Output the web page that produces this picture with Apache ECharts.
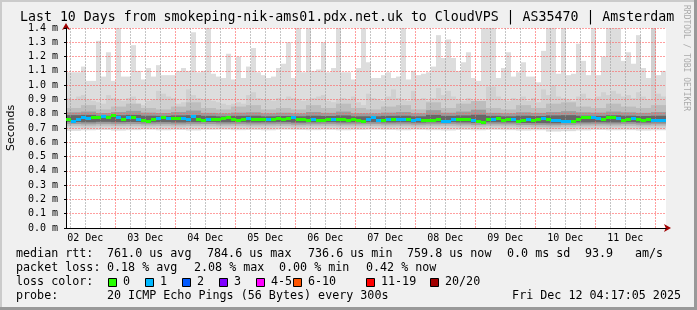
<!DOCTYPE html>
<html><head><meta charset="utf-8">
<script src="https://cdn.jsdelivr.net/npm/echarts@6/dist/echarts.min.js"></script>
<style>html,body{margin:0;padding:0;background:#f0f0f0}#c{width:697px;height:310px}</style>
</head><body><div id="c"></div>
<script>
// ---------- data ----------
const titleText = 'Last 10 Days from smokeping-nik-ams01.pdx.net.uk to CloudVPS | AS35470 | Amsterdam';
const dayLabels = ['02 Dec','03 Dec','04 Dec','05 Dec','06 Dec','07 Dec','08 Dec','09 Dec','10 Dec','11 Dec'];
const startHour = 4 + 17/60 + 5/3600;   // Dec 2 04:17:05 (hours since Dec 2 00:00)
const endHour = startHour + 240;        // Dec 12 04:17:05
// 2-hour columns (120)
const smokeMax = [
 1.09,1.09,1.09,1.13,1.03,1.03,1.31,1.06,1.23,1.03,1.45,1.06,1.06,1.28,1.10,1.04,1.12,1.06,1.14,1.07,1.07,1.07,1.10,1.12,
 1.10,1.37,1.09,1.10,1.42,1.08,1.06,1.05,1.22,1.04,1.20,1.05,1.13,1.26,1.09,1.07,1.05,1.06,1.12,1.15,1.30,1.05,1.45,1.09,
 1.42,1.10,1.11,1.30,1.09,1.12,1.42,1.09,1.09,1.04,1.12,1.42,1.16,1.05,1.05,1.07,1.09,1.05,1.06,1.43,1.04,1.10,1.07,1.08,
 1.09,1.13,1.35,1.19,1.32,1.19,1.10,1.16,1.23,1.05,1.03,1.43,1.42,1.42,1.05,1.12,1.23,1.06,1.09,1.16,1.06,1.06,1.02,1.24,
 1.42,1.42,1.08,1.42,1.07,1.08,1.29,1.17,1.07,1.42,1.07,1.20,1.42,1.42,1.42,1.17,1.23,1.15,1.35,1.12,1.05,1.42,1.07,1.10];
const smokeHi2 = [
 0.91,0.90,0.92,0.93,0.90,0.89,0.88,0.87,0.93,0.91,0.90,0.89,0.91,0.92,0.87,0.86,0.89,0.90,0.96,0.94,0.92,0.91,0.87,0.88,
 0.97,0.93,0.91,0.90,0.90,0.89,0.88,0.87,0.86,0.87,0.88,0.87,0.93,0.95,0.91,0.90,0.90,0.89,0.91,0.90,0.92,0.91,0.90,0.89,
 0.90,0.91,0.92,0.93,0.89,0.88,0.90,0.91,0.90,0.92,0.88,0.86,0.94,0.91,0.90,0.89,0.92,0.97,0.91,0.90,0.89,0.96,0.90,0.91,
 0.89,0.91,0.98,0.93,0.96,0.92,0.90,0.89,0.91,0.88,0.87,0.89,0.99,0.99,0.92,0.90,0.89,0.91,0.90,0.92,0.89,0.91,0.88,0.97,
 0.93,1.00,0.92,0.91,0.90,0.89,0.92,0.94,0.91,0.90,0.92,0.95,0.93,0.96,0.94,0.92,0.93,0.91,0.95,0.92,0.90,1.42,0.94,0.92];
const medianRtt = [
 0.758,0.749,0.758,0.772,0.766,0.774,0.774,0.779,0.774,0.786,0.772,0.761,0.772,0.777,0.763,0.751,0.744,0.758,0.770,0.774,0.766,0.770,0.766,0.768,
 0.763,0.779,0.761,0.751,0.761,0.758,0.763,0.768,0.772,0.761,0.756,0.761,0.766,0.761,0.761,0.758,0.763,0.763,0.766,0.763,0.770,0.772,0.758,0.758,
 0.756,0.758,0.751,0.751,0.758,0.761,0.761,0.761,0.756,0.761,0.753,0.744,0.763,0.777,0.753,0.751,0.758,0.758,0.761,0.758,0.761,0.756,0.763,0.756,
 0.756,0.756,0.758,0.747,0.747,0.758,0.761,0.761,0.761,0.751,0.749,0.737,0.761,0.763,0.770,0.753,0.758,0.758,0.746,0.751,0.758,0.751,0.758,0.766,
 0.761,0.756,0.751,0.744,0.744,0.746,0.758,0.772,0.777,0.772,0.768,0.761,0.772,0.772,0.768,0.756,0.761,0.770,0.758,0.756,0.758,0.756,0.751,0.756];
const lossCount = [
 0,1,1,1,1,0,0,1,0,0,1,0,1,0,1,0,0,0,1,0,1,0,0,1,
 1,1,0,0,1,0,0,0,0,0,0,0,1,0,0,0,1,0,0,0,0,1,0,0,
 0,1,0,0,0,1,0,0,0,0,0,0,1,1,1,0,1,0,1,1,0,1,1,0,
 0,0,0,1,1,1,0,0,0,1,0,0,0,1,0,0,0,1,0,0,1,0,0,1,
 0,1,1,1,1,0,0,0,0,1,1,0,0,0,1,0,0,1,0,0,0,1,1,1];
// 6-hour columns (40)
const smokeHi3 = [0.84,0.86,0.83,0.85,0.87,0.84,0.83,0.85,0.88,0.84,0.83,0.85,0.86,0.83,0.84,0.83,0.86,0.84,0.87,0.84,
                  0.83,0.85,0.86,0.83,0.88,0.84,0.87,0.89,0.84,0.83,0.86,0.84,0.87,0.88,0.85,0.84,0.87,0.85,0.84,0.86];
const smokeHi4 = [0.810,0.815,0.805,0.812,0.820,0.808,0.805,0.812,0.822,0.806,0.802,0.808,0.810,0.803,0.807,0.802,0.812,0.806,0.815,0.803,
                  0.802,0.808,0.812,0.803,0.825,0.807,0.815,0.828,0.806,0.803,0.810,0.806,0.812,0.818,0.810,0.808,0.815,0.810,0.806,0.812];
const smokeHi5 = [0.790,0.792,0.786,0.789,0.792,0.786,0.785,0.788,0.790,0.785,0.782,0.785,0.786,0.782,0.784,0.782,0.786,0.784,0.788,0.782,
                  0.782,0.785,0.786,0.782,0.792,0.785,0.788,0.793,0.785,0.782,0.786,0.784,0.788,0.790,0.786,0.785,0.789,0.786,0.784,0.786];
const smokeLo5 = [0.742,0.740,0.743,0.741,0.742,0.740,0.741,0.739,0.741,0.742,0.740,0.741,0.739,0.740,0.741,0.738,0.740,0.741,0.739,0.740,
                  0.741,0.739,0.740,0.738,0.740,0.741,0.739,0.736,0.740,0.739,0.735,0.734,0.733,0.736,0.739,0.740,0.739,0.741,0.738,0.740];
const smokeLo4 = [0.728,0.726,0.729,0.727,0.728,0.726,0.727,0.725,0.727,0.728,0.726,0.727,0.725,0.726,0.727,0.724,0.726,0.727,0.725,0.726,
                  0.727,0.725,0.726,0.724,0.726,0.727,0.725,0.722,0.726,0.725,0.721,0.720,0.719,0.722,0.725,0.726,0.725,0.727,0.724,0.726];
const smokeLo3 = [0.715,0.713,0.716,0.714,0.715,0.713,0.714,0.712,0.714,0.715,0.713,0.714,0.712,0.713,0.714,0.711,0.713,0.714,0.712,0.713,
                  0.714,0.712,0.713,0.711,0.713,0.714,0.712,0.709,0.713,0.712,0.708,0.706,0.705,0.709,0.712,0.713,0.712,0.714,0.711,0.713];
const smokeLo2 = [0.702,0.700,0.703,0.701,0.702,0.700,0.701,0.699,0.701,0.702,0.700,0.701,0.699,0.700,0.701,0.698,0.700,0.701,0.699,0.700,
                  0.701,0.699,0.700,0.698,0.700,0.701,0.699,0.696,0.700,0.699,0.695,0.693,0.692,0.696,0.699,0.700,0.699,0.701,0.698,0.700];
const smokeMin = [0.680,0.684,0.686,0.682,0.685,0.688,0.684,0.686,0.683,0.687,0.688,0.685,0.686,0.684,0.688,0.686,0.685,0.687,0.684,0.686,
                  0.688,0.686,0.684,0.687,0.685,0.683,0.686,0.684,0.687,0.685,0.682,0.684,0.675,0.678,0.683,0.686,0.684,0.685,0.682,0.684];
const lossLabels = ['0','1','2','3','4-5','6-10','11-19','20/20'];
const lossColors = ['#26ff00','#00b8ff','#0059ff','#7e00ff','#ff00ff','#ff5500','#ff0000','#a10000'];
const statRows = [
  [[16,'median rtt:'],[107,'761.0 us avg'],[207,'784.6 us max'],[308,'736.6 us min'],[407,'759.8 us now'],[507,'0.0 ms sd'],[585,'93.9'],[635,'am/s']],
  [[16,'packet loss:'],[107,'0.18 % avg'],[194,'2.08 % max'],[279,'0.00 % min'],[366,'0.42 % now']],
  [[16,'loss color:']],
  [[16,'probe:'],[107,'20 ICMP Echo Pings (56 Bytes) every 300s']]
];
const dateText = 'Fri Dec 12 04:17:05 2025';

// ---------- build ----------
const MONO = '"DejaVu Sans Mono", monospace';
function mixedCols(lo6h, hi, hiHours) {
  return hi.map((v, i) => {
    const x0 = startHour + i*hiHours;
    return [x0, x0 + hiHours, lo6h[Math.floor(i*hiHours/6)], v];
  });
}
const band1 = mixedCols(smokeMin, smokeMax, 2);
const band2 = mixedCols(smokeLo2, smokeHi2, 2);
const band3 = mixedCols(smokeLo3, smokeHi3, 6);
const band4 = mixedCols(smokeLo4, smokeHi4, 6);
const band5 = mixedCols(smokeLo5, smokeHi5, 6);
const medData = medianRtt.map((v,i) => [startHour+i*2, startHour+(i+1)*2, v, lossCount[i]]);

function lossColor(n) {
  if (n <= 3) return lossColors[n];
  if (n <= 5) return lossColors[4];
  if (n <= 10) return lossColors[5];
  if (n <= 19) return lossColors[6];
  return lossColors[7];
}

function bandSeries(data, color, z) {
  return {
    type: 'custom', z, silent: true, animation: false,
    encode: { x: [0, 1], y: [2, 3] },
    data,
    renderItem(params, api) {
      const a = api.coord([api.value(0), api.value(3)]);
      const b = api.coord([api.value(1), api.value(2)]);
      const cs = params.coordSys;
      const shape = echarts.graphic.clipRectByRect(
        { x: a[0], y: a[1], width: b[0] - a[0], height: b[1] - a[1] },
        { x: cs.x, y: cs.y, width: cs.width, height: cs.height });
      return shape ? { type: 'rect', shape, style: { fill: color } } : null;
    }
  };
}

const gridValues = [], noonValues = [];
for (let h = 6; h <= 240; h += 6) gridValues.push(h);
dayLabels.forEach((d, i) => noonValues.push(12 + 24*i));

const minorC = 'rgba(150,150,150,0.55)', majorC = 'rgba(255,95,95,0.6)';

const graphics = [
  { type:'rect', shape:{x:0,y:0,width:697,height:2}, style:{fill:'#cbcbcb'}, silent:true },
  { type:'rect', shape:{x:0,y:0,width:2,height:310}, style:{fill:'#cbcbcb'}, silent:true },
  { type:'rect', shape:{x:694,y:0,width:3,height:310}, style:{fill:'#999999'}, silent:true },
  { type:'rect', shape:{x:0,y:307,width:697,height:3}, style:{fill:'#999999'}, silent:true },
  { type:'text', x:686, y:5, rotation:-Math.PI/2, style:{ text:'RRDTOOL / TOBI OETIKER', font:'8px ' + MONO, fill:'#aaaaaa', textAlign:'left', textVerticalAlign:'middle' } }
];
const lineY = [254, 268, 282, 296];
statRows.forEach((row, i) => row.forEach(([x, t]) =>
  graphics.push({ type:'text', x, y:lineY[i], style:{ text:t, font:'11.7px ' + MONO, fill:'#000', textVerticalAlign:'middle' } })));
graphics.push({ type:'text', x:681, y:296, style:{ text:dateText, font:'11.7px ' + MONO, fill:'#000', textAlign:'right', textVerticalAlign:'middle' } });
const boxX = [108, 145, 182, 219, 256, 293, 366, 430];
lossLabels.forEach((lab, i) => {
  graphics.push({ type:'rect', shape:{x:boxX[i]+0.5, y:278.5, width:8, height:8}, style:{fill:lossColors[i], stroke:'#000', lineWidth:1} });
  graphics.push({ type:'text', x:boxX[i]+15, y:282, style:{ text:lab, font:'11.7px ' + MONO, fill:'#000', textVerticalAlign:'middle' } });
});

const chart = echarts.init(document.getElementById('c'), null, { renderer: 'canvas' });
chart.setOption({
  animation: false,
  backgroundColor: '#f0f0f0',
  title: { text: titleText, left: 20, top: 11, padding: 0,
           textStyle: { fontFamily: MONO, fontSize: 13.25, fontWeight: 'normal', color: '#000' } },
  grid: { left: 66, top: 28, width: 600, height: 200, show: true, backgroundColor: '#ffffff', borderWidth: 0,
          outerBoundsMode: 'none', containLabel: false },
  xAxis: [
    { type: 'value', min: startHour, max: endHour, z: 3,
      axisLine: { show: true, onZero: false, lineStyle: { color: '#000', width: 1 } },
      axisTick: { show: false, customValues: gridValues },
      axisLabel: { customValues: noonValues, margin: 5, fontFamily: MONO, fontSize: 10, color: '#000',
                   formatter: v => dayLabels[Math.round((v - 12) / 24)] },
      splitLine: { show: true, lineStyle: { color: [minorC, minorC, minorC, majorC], type: [2, 1], width: 1 } } },
    { type: 'value', min: startHour, max: endHour, position: 'bottom', z: 2,
      axisLine: { show: true, onZero: false, symbol: ['none', 'arrow'], symbolSize: [6, 7], symbolOffset: [0, 5],
                  lineStyle: { color: '#a10000', width: 1 } },
      axisTick: { show: false }, axisLabel: { show: false }, splitLine: { show: false } }
  ],
  yAxis: [
    { type: 'value', min: 0, max: 1.4, interval: 0.1, z: 3, position: 'left',
      name: 'Seconds', nameLocation: 'middle', nameGap: 49,
      nameTextStyle: { fontFamily: '"DejaVu Sans", sans-serif', fontSize: 11, color: '#000' },
      axisLine: { show: true, lineStyle: { color: '#000', width: 1 } },
      axisTick: { show: true, length: 2, lineStyle: { color: '#000' } },
      axisLabel: { margin: 8, fontFamily: MONO, fontSize: 10, color: '#000', formatter: v => v.toFixed(1) + ' m' },
      splitLine: { show: true, lineStyle: { color: majorC, type: [2, 1], width: 1 } } },
    { type: 'value', min: 0, max: 1.4, interval: 0.1, z: 2, position: 'left',
      axisLine: { show: true, symbol: ['none', 'arrow'], symbolSize: [6, 7], symbolOffset: [0, 5],
                  lineStyle: { color: '#a10000', width: 1 } },
      axisTick: { show: false }, axisLabel: { show: false }, splitLine: { show: false } }
  ],
  graphic: graphics,
  series: [
    bandSeries(band1, '#dddddd', 1),
    bandSeries(band2, '#d0d0d0', 1),
    bandSeries(band3, '#bdbdbd', 1),
    bandSeries(band4, '#9c9c9c', 1),
    bandSeries(band5, '#676767', 1),
    {
      type: 'custom', z: 5, silent: true, animation: false,
      encode: { x: [0, 1], y: 2 },
      data: medData,
      renderItem(params, api) {
        const a = api.coord([api.value(0), api.value(2)]);
        const b = api.coord([api.value(1), api.value(2)]);
        return { type: 'rect', shape: { x: a[0], y: Math.round(a[1] - 1.5), width: b[0] - a[0], height: 3 },
                 style: { fill: lossColor(api.value(3)) } };
      }
    }
  ]
});
</script></body></html>
